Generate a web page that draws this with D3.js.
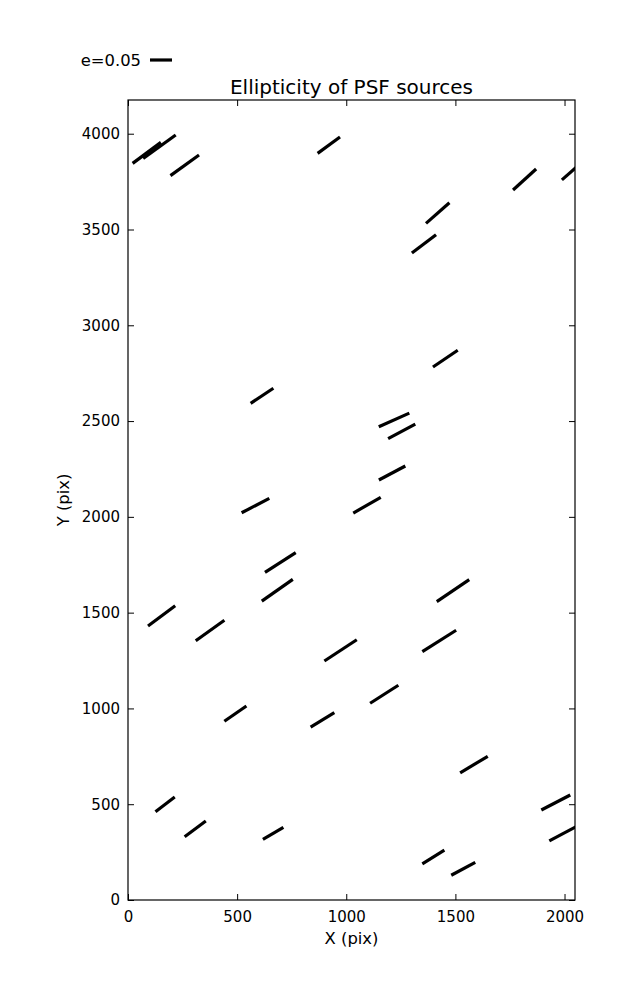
<!DOCTYPE html>
<html>
<head>
<meta charset="utf-8">
<script src="https://cdn.jsdelivr.net/npm/d3@7"></script>
<style>
  body { margin: 0; background: #fff; }
  svg { display: block; }
  text { font-family: "DejaVu Sans", sans-serif; fill: #000; }
</style>
</head>
<body>
<svg id="chart" width="637" height="1000"></svg>
<script>
// ---- data (source centre in detector pixels, ellipticity, angle in degrees) ----
const srcX = [86, 144, 260, 920, 1817, 2041, 1419, 1356, 1454, 614, 1219, 1254, 1210, 584, 1095,
              698, 684, 1489, 154, 376, 974, 1426, 492, 891, 1174, 1585, 170, 308, 665, 1960, 1997, 1399, 1536];
const srcY = [3900, 3932, 3835, 3940, 3761, 3812, 3586, 3425, 2826, 2632, 2506, 2446, 2229, 2059, 2061,
              1762, 1617, 1615, 1483, 1407, 1303, 1352, 973, 940, 1074, 707, 499, 371, 348, 509, 349, 224, 163];
const srcE = [0.080, 0.091, 0.080, 0.063, 0.071, 0.070, 0.071, 0.069, 0.068, 0.062, 0.076, 0.070, 0.068, 0.071, 0.072,
              0.083, 0.086, 0.089, 0.077, 0.080, 0.088, 0.091, 0.061, 0.063, 0.076, 0.073, 0.055, 0.060, 0.054, 0.074, 0.075, 0.059, 0.062];
const srcAngle = [36.6, 35.7, 35.8, 36.2, 42.4, 41.3, 41.5, 37.3, 34.1, 33.6, 24.1, 28.1, 28.0, 27.6, 29.8,
                  32.6, 35.0, 34.0, 36.6, 35.5, 33.3, 32.4, 34.8, 31.2, 32.5, 30.9, 37.2, 36.8, 30.6, 27.3, 28.1, 31.9, 28.4];
const xTicks = [0, 500, 1000, 1500, 2000];
const yTicks = [0, 500, 1000, 1500, 2000, 2500, 3000, 3500, 4000];
const keyE = 0.05;
const keyLabel = "e=0.05";
const xDomain = [0, 2048];
const yDomain = [0, 4176];

// ---- layout ----
const pL = 128, pR = 575, pT = 100, pB = 900;
const svg = d3.select("#chart");
const x = d3.scaleLinear().domain(xDomain).range([pL, pR]);
const y = d3.scaleLinear().domain(yDomain).range([pB, pT]);
const eLen = d3.scaleLinear().domain([0, keyE]).range([0, 22]);

svg.append("defs").append("clipPath").attr("id", "plotclip")
  .append("rect").attr("x", pL).attr("y", pT).attr("width", pR - pL).attr("height", pB - pT);

// segments
const idx = d3.range(srcX.length);
const rad = a => a * Math.PI / 180;
svg.append("g").attr("clip-path", "url(#plotclip)")
  .selectAll("line").data(idx).join("line")
  .attr("x1", i => x(srcX[i]) - eLen(srcE[i]) / 2 * Math.cos(rad(srcAngle[i])))
  .attr("y1", i => y(srcY[i]) + eLen(srcE[i]) / 2 * Math.sin(rad(srcAngle[i])))
  .attr("x2", i => x(srcX[i]) + eLen(srcE[i]) / 2 * Math.cos(rad(srcAngle[i])))
  .attr("y2", i => y(srcY[i]) - eLen(srcE[i]) / 2 * Math.sin(rad(srcAngle[i])))
  .attr("stroke", "#000").attr("stroke-width", 3.2).attr("stroke-linecap", "butt");

// axes (ticks inward, on all four sides)
const tickLen = 6;
const fs = 15;
const axB = svg.append("g").attr("transform", `translate(0,${pB})`)
  .call(d3.axisBottom(x).tickValues(xTicks).tickSize(-tickLen).tickPadding(8).tickFormat(d3.format("d")));
const axT = svg.append("g").attr("transform", `translate(0,${pT})`)
  .call(d3.axisTop(x).tickValues(xTicks).tickSize(-tickLen).tickFormat(""));
const axL = svg.append("g").attr("transform", `translate(${pL},0)`)
  .call(d3.axisLeft(y).tickValues(yTicks).tickSize(-tickLen).tickPadding(8).tickFormat(d3.format("d")));
const axR = svg.append("g").attr("transform", `translate(${pR},0)`)
  .call(d3.axisRight(y).tickValues(yTicks).tickSize(-tickLen).tickFormat(""));
[axB, axT, axL, axR].forEach(a => {
  a.select(".domain").remove();
  a.selectAll(".tick line").attr("stroke", "#000").attr("stroke-width", 1);
  a.selectAll(".tick text").attr("font-family", "DejaVu Sans").attr("font-size", fs).attr("fill", "#000");
});
axB.selectAll(".tick text").attr("dy", "0.95em");

// frame
svg.append("rect").attr("x", pL).attr("y", pT).attr("width", pR - pL).attr("height", pB - pT)
  .attr("fill", "none").attr("stroke", "#000").attr("stroke-width", 1.2);

// labels
const lfs = 16.4;
svg.append("text").attr("x", (pL + pR) / 2).attr("y", 94).attr("text-anchor", "middle")
  .attr("font-size", 20).text("Ellipticity of PSF sources");
svg.append("text").attr("x", (pL + pR) / 2).attr("y", 944).attr("text-anchor", "middle")
  .attr("font-size", lfs).text("X (pix)");
svg.append("text").attr("transform", `translate(69,${(pT + pB) / 2}) rotate(-90)`).attr("text-anchor", "middle")
  .attr("font-size", lfs).text("Y (pix)");

// key
const keyX = 150, keyY = 60;
svg.append("line").attr("x1", keyX).attr("x2", keyX + eLen(keyE)).attr("y1", keyY).attr("y2", keyY)
  .attr("stroke", "#000").attr("stroke-width", 3.2);
svg.append("text").attr("x", keyX - 9).attr("y", keyY + 6).attr("text-anchor", "end")
  .attr("font-size", lfs).text(keyLabel);
</script>
</body>
</html>
